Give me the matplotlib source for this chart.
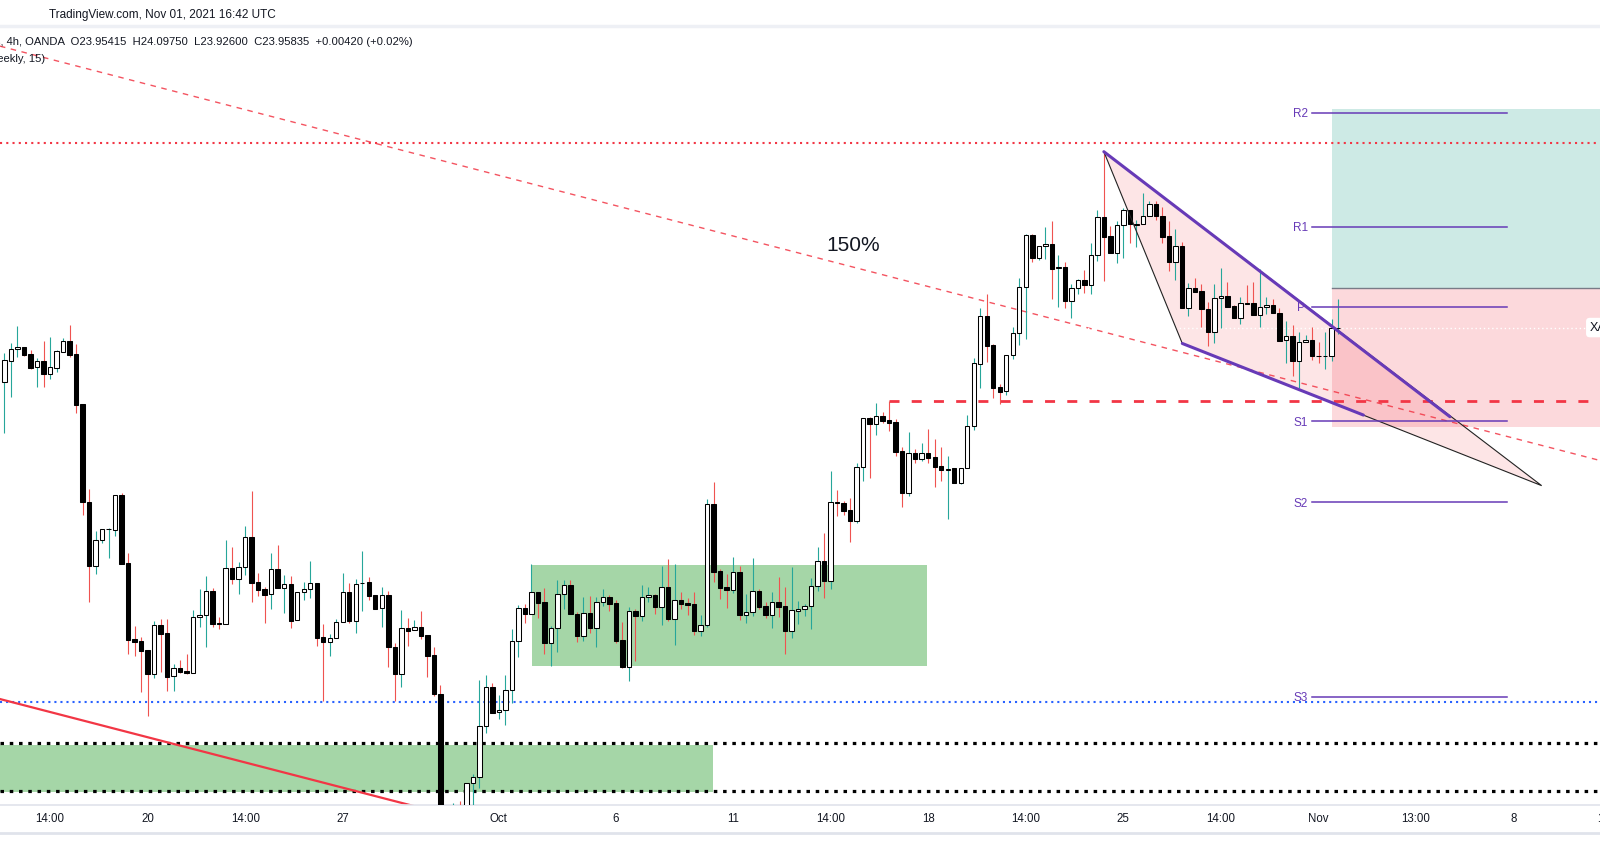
import numpy as np
import matplotlib
matplotlib.use("Agg")
import matplotlib.pyplot as plt
import matplotlib.transforms as mtransforms
from matplotlib.patches import Rectangle, Polygon
from matplotlib.lines import Line2D

plt.rcParams['font.family'] = ['Liberation Sans', 'DejaVu Sans']

# -----------------------------
# XAGUSD 4h candles
# -----------------------------
opens = [
    23.695, 23.797, 23.853, 23.862, 23.830, 23.765, 23.794, 23.734, 23.763, 23.841,
    23.891, 23.830, 23.585, 23.109, 22.801, 22.924, 22.977, 22.976, 23.143, 22.812,
    22.443, 22.435, 22.391, 22.276, 22.511, 22.474, 22.263, 22.302, 22.289, 22.281,
    22.550, 22.560, 22.676, 22.521, 22.519, 22.788, 22.738, 22.793, 22.939, 22.720,
    22.688, 22.662, 22.783, 22.694, 22.710, 22.535, 22.671, 22.686, 22.715, 22.453,
    22.428, 22.448, 22.526, 22.671, 22.533, 22.715, 22.720, 22.657, 22.594, 22.657,
    22.405, 22.273, 22.496, 22.487, 22.503, 22.464, 22.367, 22.176, 21.620, 21.500,
    21.580, 21.550, 21.743, 21.772, 22.020, 22.210, 22.088, 22.098, 22.197, 22.433,
    22.594, 22.565, 22.671, 22.624, 22.426, 22.496, 22.662, 22.705, 22.566, 22.460,
    22.569, 22.496, 22.623, 22.647, 22.618, 22.438, 22.310, 22.579, 22.558, 22.647,
    22.657, 22.601, 22.696, 22.543, 22.633, 22.619, 22.615, 22.485, 22.511, 23.101,
    22.775, 22.697, 22.684, 22.769, 22.563, 22.574, 22.676, 22.605, 22.563, 22.623,
    22.603, 22.485, 22.582, 22.589, 22.603, 22.701, 22.822, 22.728, 23.109, 23.105,
    23.071, 23.019, 23.279, 23.517, 23.491, 23.527, 23.507, 23.499, 23.358, 23.155,
    23.348, 23.321, 23.348, 23.329, 23.285, 23.267, 23.276, 23.204, 23.274, 23.478,
    23.782, 24.013, 23.872, 23.669, 23.648, 23.823, 23.930, 24.154, 24.406, 24.295,
    24.353, 24.363, 24.246, 24.251, 24.089, 24.149, 24.188, 24.166, 24.309, 24.494,
    24.402, 24.319, 24.455, 24.528, 24.459, 24.460, 24.502, 24.557, 24.499, 24.402,
    24.278, 24.354, 24.052, 24.149, 24.134, 24.048, 23.938, 24.100, 24.110, 24.061,
    24.003, 24.076, 24.076, 24.021, 24.057, 24.069, 24.027, 23.896, 23.916, 23.797,
    23.886, 23.896, 23.821, 23.820, 23.821, 23.95415,
]
highs = [
    23.836, 23.885, 23.966, 23.862, 23.849, 23.809, 23.893, 23.912, 23.849, 23.907,
    23.971, 23.878, 23.585, 23.173, 22.969, 22.978, 22.984, 23.143, 23.153, 22.862,
    22.508, 22.453, 22.391, 22.531, 22.542, 22.542, 22.323, 22.342, 22.372, 22.585,
    22.689, 22.751, 22.694, 22.553, 22.926, 22.892, 22.820, 22.994, 23.164, 22.765,
    22.696, 22.862, 22.901, 22.754, 22.749, 22.674, 22.721, 22.825, 22.715, 22.517,
    22.469, 22.543, 22.767, 22.718, 22.736, 22.874, 22.747, 22.657, 22.699, 22.679,
    22.425, 22.585, 22.548, 22.537, 22.580, 22.464, 22.407, 22.221, 21.630, 21.649,
    21.659, 21.743, 21.788, 22.245, 22.270, 22.229, 22.171, 22.270, 22.493, 22.610,
    22.615, 22.809, 22.671, 22.694, 22.508, 22.731, 22.731, 22.731, 22.574, 22.647,
    22.653, 22.647, 22.686, 22.658, 22.634, 22.527, 22.599, 22.590, 22.707, 22.699,
    22.663, 22.799, 22.833, 22.809, 22.673, 22.644, 22.673, 22.561, 23.125, 23.207,
    22.785, 22.760, 22.843, 22.799, 22.663, 22.838, 22.686, 22.624, 22.673, 22.746,
    22.697, 22.794, 22.629, 22.613, 22.741, 22.892, 22.960, 23.261, 23.169, 23.115,
    23.130, 23.298, 23.517, 23.525, 23.591, 23.548, 23.603, 23.514, 23.379, 23.449,
    23.368, 23.397, 23.465, 23.416, 23.379, 23.334, 23.276, 23.274, 23.533, 23.810,
    24.055, 24.121, 23.878, 23.685, 23.823, 23.959, 24.199, 24.413, 24.413, 24.354,
    24.445, 24.476, 24.309, 24.275, 24.170, 24.194, 24.238, 24.369, 24.529, 24.813,
    24.452, 24.476, 24.539, 24.528, 24.481, 24.611, 24.573, 24.573, 24.546, 24.476,
    24.437, 24.374, 24.173, 24.197, 24.170, 24.084, 24.170, 24.248, 24.181, 24.068,
    24.105, 24.165, 24.181, 24.241, 24.105, 24.097, 24.052, 23.990, 23.971, 23.938,
    23.922, 23.962, 23.886, 23.938, 23.999, 24.0975,
]
lows = [
    23.445, 23.622, 23.814, 23.820, 23.758, 23.671, 23.671, 23.710, 23.744, 23.841,
    23.814, 23.544, 23.049, 22.626, 22.760, 22.913, 22.840, 22.945, 22.810, 22.372,
    22.363, 22.188, 22.072, 22.256, 22.286, 22.193, 22.193, 22.281, 22.274, 22.281,
    22.504, 22.407, 22.504, 22.495, 22.519, 22.712, 22.663, 22.756, 22.624, 22.653,
    22.524, 22.592, 22.694, 22.569, 22.496, 22.535, 22.634, 22.642, 22.410, 22.145,
    22.363, 22.448, 22.526, 22.524, 22.475, 22.582, 22.634, 22.592, 22.504, 22.310,
    22.145, 22.213, 22.412, 22.487, 22.443, 22.258, 22.169, 21.550, 21.420, 21.460,
    21.500, 21.520, 21.638, 21.719, 21.989, 22.086, 22.054, 22.027, 22.132, 22.358,
    22.524, 22.565, 22.545, 22.373, 22.315, 22.383, 22.589, 22.566, 22.431, 22.436,
    22.475, 22.404, 22.606, 22.582, 22.426, 22.302, 22.242, 22.338, 22.533, 22.626,
    22.566, 22.513, 22.533, 22.415, 22.590, 22.561, 22.464, 22.459, 22.504, 22.723,
    22.640, 22.597, 22.669, 22.538, 22.524, 22.558, 22.592, 22.548, 22.499, 22.553,
    22.373, 22.451, 22.519, 22.558, 22.495, 22.679, 22.645, 22.689, 23.044, 23.047,
    22.917, 23.010, 23.214, 23.228, 23.437, 23.496, 23.457, 23.334, 23.087, 23.139,
    23.301, 23.311, 23.301, 23.185, 23.214, 23.029, 23.204, 23.198, 23.274, 23.460,
    23.666, 23.792, 23.617, 23.585, 23.629, 23.804, 23.875, 23.901, 24.278, 24.286,
    24.290, 24.098, 24.059, 24.055, 24.006, 24.120, 24.127, 24.123, 24.283, 24.186,
    24.319, 24.273, 24.298, 24.370, 24.351, 24.460, 24.502, 24.482, 24.370, 24.234,
    24.189, 24.052, 24.016, 24.132, 23.962, 23.868, 23.882, 23.955, 24.059, 24.003,
    23.975, 24.075, 24.019, 23.962, 24.023, 24.027, 23.893, 23.787, 23.724, 23.663,
    23.886, 23.800, 23.787, 23.755, 23.797, 23.926,
]
closes = [
    23.800, 23.853, 23.862, 23.825, 23.763, 23.794, 23.734, 23.765, 23.844, 23.891,
    23.826, 23.583, 23.109, 22.801, 22.924, 22.978, 22.978, 23.143, 22.810, 22.441,
    22.431, 22.388, 22.276, 22.511, 22.470, 22.261, 22.302, 22.286, 22.281, 22.550,
    22.560, 22.676, 22.519, 22.519, 22.788, 22.738, 22.793, 22.939, 22.718, 22.684,
    22.660, 22.783, 22.694, 22.710, 22.533, 22.671, 22.686, 22.715, 22.451, 22.428,
    22.448, 22.526, 22.671, 22.533, 22.713, 22.717, 22.655, 22.592, 22.657, 22.404,
    22.273, 22.496, 22.485, 22.503, 22.460, 22.363, 22.176, 21.620, 21.500, 21.580,
    21.550, 21.743, 21.772, 22.020, 22.210, 22.086, 22.098, 22.197, 22.433, 22.594,
    22.565, 22.671, 22.621, 22.426, 22.496, 22.662, 22.705, 22.566, 22.460, 22.569,
    22.496, 22.623, 22.647, 22.616, 22.436, 22.310, 22.579, 22.558, 22.647, 22.657,
    22.601, 22.696, 22.543, 22.633, 22.616, 22.611, 22.485, 22.511, 23.101, 22.772,
    22.694, 22.684, 22.769, 22.563, 22.574, 22.676, 22.601, 22.563, 22.623, 22.601,
    22.485, 22.584, 22.590, 22.603, 22.701, 22.822, 22.728, 23.109, 23.104, 23.068,
    23.019, 23.279, 23.517, 23.491, 23.527, 23.505, 23.496, 23.355, 23.155, 23.348,
    23.321, 23.348, 23.326, 23.282, 23.266, 23.272, 23.204, 23.274, 23.480, 23.784,
    24.013, 23.870, 23.666, 23.646, 23.823, 23.930, 24.154, 24.406, 24.295, 24.353,
    24.363, 24.244, 24.251, 24.089, 24.149, 24.188, 24.166, 24.309, 24.494, 24.400,
    24.319, 24.455, 24.528, 24.460, 24.461, 24.502, 24.557, 24.499, 24.400, 24.278,
    24.353, 24.052, 24.149, 24.132, 24.047, 23.938, 24.100, 24.110, 24.059, 24.003,
    24.076, 24.075, 24.019, 24.057, 24.069, 24.027, 23.893, 23.916, 23.797, 23.886,
    23.896, 23.821, 23.820, 23.821, 23.954, 23.95835,
]

# -----------------------------
# time axis labels (candle index -> label)
# -----------------------------
tick_pos = [7, 22, 37, 52, 76, 94, 112, 127, 142, 157, 172, 187, 202, 217, 232]
tick_labels = ["14:00", "20", "14:00", "27", "Oct", "6", "11", "14:00", "18",
               "14:00", "25", "14:00", "Nov", "13:00", "8"]

# -----------------------------
# drawings on the chart
# -----------------------------
red_dotted_level = 24.856
red_dashed_level = 23.603
red_dashed_start = 136
blue_dotted_level = 22.140
black_dotted_levels = [21.941, 21.706]

green_zone_1 = [81.05, 141.8, 22.313, 22.804]   # x0, x1, y0, y1
green_zone_2 = [-2.0, 108.85, 21.700, 21.930]

trend_dashed_x = [-0.7, 245.3]
trend_dashed_y = [25.326, 23.312]
trend_solid_x = [-0.7, 70.0]
trend_solid_y = [22.153, 21.575]

pivot_names = ["R2", "R1", "P", "S1", "S2", "S3"]
pivot_levels = [25.000, 24.448, 24.057, 23.502, 23.109, 22.163]
pivot_span = [201, 231]

long_start = 204.0
long_entry = 24.149
long_target = 25.019
long_stop = 23.476

wedge_x = [169.0, 181.06, 236.3]
wedge_y = [24.813, 23.881, 23.190]
upper_line_x = [169.0, 222.2]
upper_line_y = [24.813, 23.525]
lower_line_x = [181.06, 208.9]
lower_line_y = [23.881, 23.533]

last_price = 23.95835

# -----------------------------
# figure
# -----------------------------
W, H = 1600, 868
fig = plt.figure(figsize=(W / 100, H / 100), dpi=100)
fig.patch.set_facecolor("white")
ax = fig.add_axes([0, 1 - 805 / H, 1, (805 - 27) / H])
ax.set_xlim(-0.69, 245.27)
ax.set_ylim(21.638, 25.419)

RED = "#f23645"
PURPLE = "#673ab7"
TEXT = "#131722"

# zones
for z in (green_zone_1, green_zone_2):
    ax.add_patch(Rectangle((z[0], z[2]), z[1] - z[0], z[3] - z[2],
                           facecolor="#a5d6a7", edgecolor="none", zorder=1))

# long position tool
ax.add_patch(Rectangle((long_start, long_entry), 60, long_target - long_entry,
                       facecolor="#089981", alpha=0.2, edgecolor="none", zorder=1))
ax.add_patch(Rectangle((long_start, long_stop), 60, long_entry - long_stop,
                       facecolor=RED, alpha=0.19, edgecolor="none", zorder=1))
ax.plot([long_start, 260], [long_entry, long_entry], color="#787b86", lw=1, zorder=2)

# wedge
ax.add_patch(Polygon(np.column_stack([wedge_x, wedge_y]), closed=True,
                     facecolor=RED, alpha=0.13, edgecolor="none", zorder=1.5))
ax.add_patch(Polygon(np.column_stack([wedge_x, wedge_y]), closed=True,
                     facecolor="none", edgecolor="#222222", lw=0.8, zorder=5))

# horizontal levels
ax.axhline(red_dotted_level, color=RED, lw=1.5, ls=(0, (1, 2)), zorder=2)
ax.axhline(blue_dotted_level, color="#2962ff", lw=1.5, ls=(0, (1, 1.9)), zorder=2)
for lv in black_dotted_levels:
    ax.axhline(lv, color="black", lw=2.3, ls=(0, (1.1, 1.8)), zorder=2)
ax.plot([red_dashed_start, 300], [red_dashed_level, red_dashed_level],
        color=RED, lw=2, ls=(0, (3.6, 4.4)), zorder=2)

# trend lines
ax.plot(trend_dashed_x, trend_dashed_y, color=RED, lw=1.0, ls=(0, (4, 4)),
        alpha=0.85, zorder=2)
ax.plot(trend_solid_x, trend_solid_y, color=RED, lw=1.6, zorder=2)

# last price line
ax.axhline(last_price, color="white", lw=1, ls=(0, (1, 2)), zorder=2.5)

# -----------------------------
# candles
# -----------------------------
o = np.array(opens)
h = np.array(highs)
l = np.array(lows)
c = np.array(closes)
x = np.arange(len(o))
up = c >= o

wick_col = np.where(up, "#26a69a", "#ef5350")
ax.vlines(x, l, h, colors=wick_col, lw=0.8, zorder=3)
body_bottom = np.minimum(o, c)
body_h = np.maximum(np.abs(c - o), 0.0015)
face = np.where(up, "white", "black")
ax.bar(x, body_h, bottom=body_bottom, width=0.68, color=face,
       edgecolor="black", lw=0.75, zorder=4)

# wedge trend lines on top
ax.plot(upper_line_x, upper_line_y, color=PURPLE, lw=2.2, solid_capstyle="round", zorder=6)
ax.plot(lower_line_x, lower_line_y, color=PURPLE, lw=2.2, solid_capstyle="round", zorder=6)

# pivots
for name, lv in zip(pivot_names, pivot_levels):
    ax.plot(pivot_span, [lv, lv], color=PURPLE, lw=1.1, zorder=6)
    ax.text(pivot_span[0] - 1.7, lv - 0.006, name, color=PURPLE, fontsize=8.5,
            ha="center", va="center", zorder=7)

# labels on chart
ax.text(130.4, 24.359, "150%", fontsize=15, color=TEXT, ha="center", va="center", zorder=6)
ax.text(243.7, last_price, "XAGUSD", fontsize=9, color=TEXT, ha="left", va="center",
        zorder=7, clip_on=False,
        bbox=dict(boxstyle="round,pad=0.3", facecolor="white", edgecolor="none"))

# -----------------------------
# axes styling
# -----------------------------
for s in ("top", "left", "right"):
    ax.spines[s].set_visible(False)
ax.spines["bottom"].set_color("#e0e3eb")
ax.spines["bottom"].set_linewidth(1.2)
ax.set_yticks([])
ax.set_xticks(tick_pos)
ax.set_xticklabels(tick_labels)
ax.tick_params(axis="x", length=0, pad=6, labelsize=8.3, labelcolor=TEXT)
trans = mtransforms.blended_transform_factory(ax.transData, ax.transAxes)
ax.text(247, -0.0105, "13:00", transform=trans, fontsize=8.3, color=TEXT,
        ha="center", va="top", clip_on=False)

# header
fig.add_artist(Line2D([0, 1], [1 - 26 / H, 1 - 26 / H], color="#eef0f5", lw=2.5))
fig.add_artist(Line2D([0, 1], [1 - 832.5 / H, 1 - 832.5 / H], color="#e0e3eb", lw=2))
fig.text(49.3 / W, 1 - 15 / H, "TradingView.com, Nov 01, 2021 16:42 UTC",
         fontsize=8.5, color=TEXT, ha="left", va="center")
fig.text(412.7 / W, 1 - 41.7 / H,
         "Silver / U.S. Dollars, 4h, OANDA  O23.95415  H24.09750  L23.92600  C23.95835  +0.00420 (+0.02%)",
         fontsize=8.1, color=TEXT, ha="right", va="center")
fig.text(45 / W, 1 - 59.3 / H, "Pivots Standard (Traditional, Auto, Weekly, 15)",
         fontsize=8.1, color=TEXT, ha="right", va="center")

fig.savefig("out.png", dpi=100, facecolor="white")
